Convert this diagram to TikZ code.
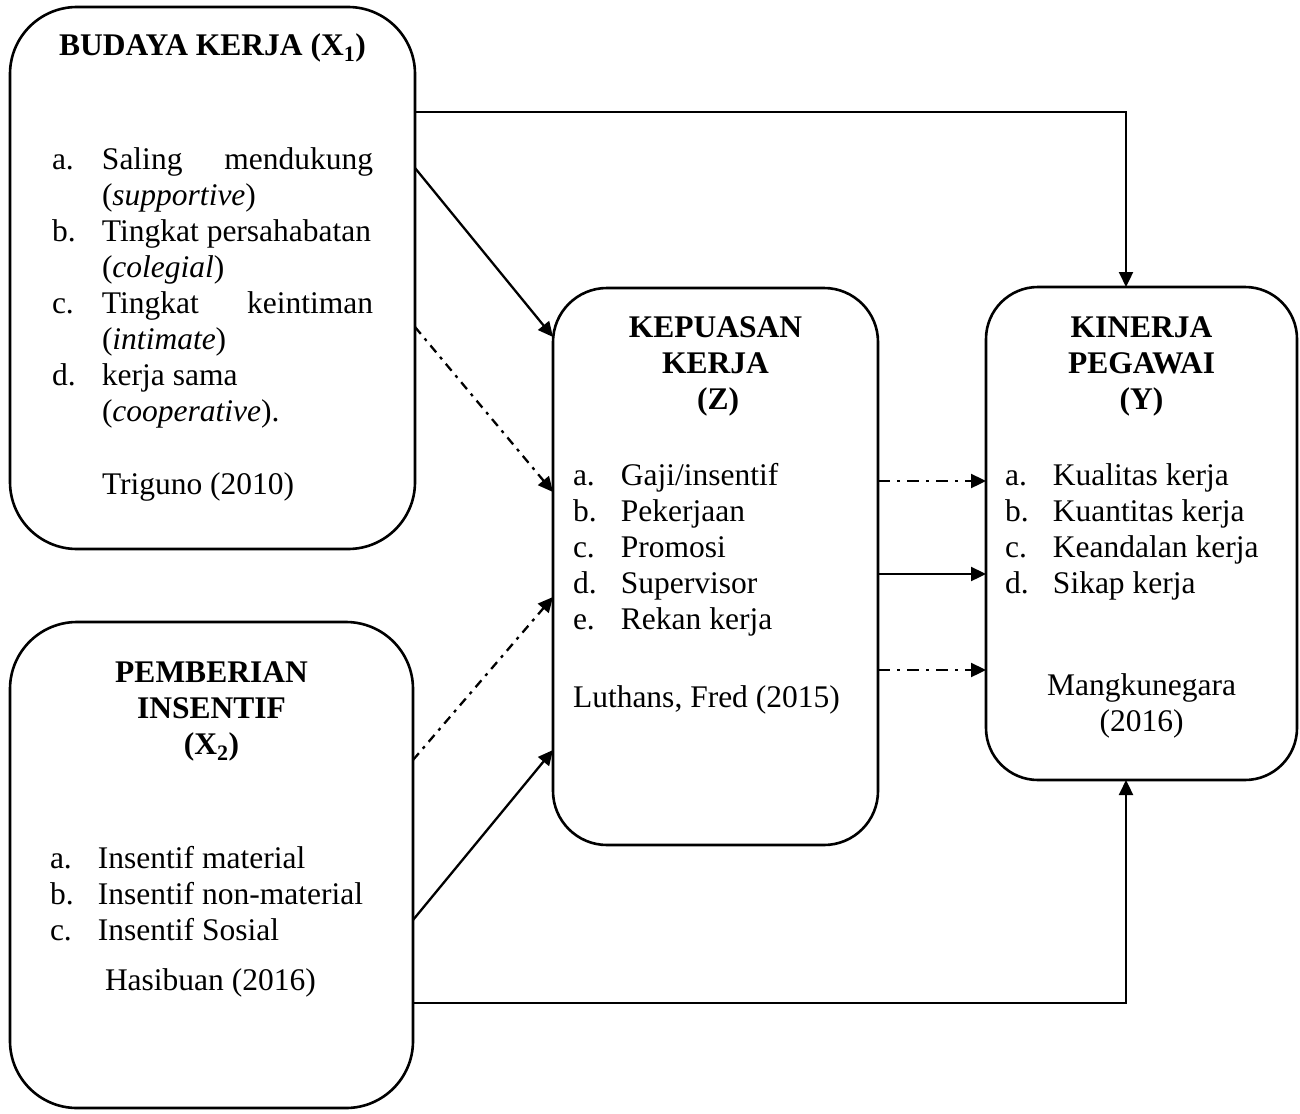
\documentclass[tikz,border=0pt]{standalone}
\usepackage{fontspec}
\setmainfont{Liberation Serif}
\usetikzlibrary{arrows.meta}

% fixed-width column for the list labels
\newcommand\itm[2][48pt]{\makebox[#1][l]{#2}}

\begin{document}
\begin{tikzpicture}[x=1pt,y=-1pt,
  box/.style={draw, line width=2.6pt, outer sep=0pt, inner sep=0pt},
  txt/.style={inner sep=0pt, outer sep=0pt, anchor=base west,
              font=\fontsize{31.5}{36}\selectfont},
  ttl/.style={txt, anchor=base, font=\fontsize{31.5}{36}\selectfont\bfseries},
  arr/.style={line width=2.3pt, -{Triangle[length=15pt,width=14pt]}},
  dd/.style={arr, dash pattern=on 12pt off 7pt on 3pt off 7pt},
  ddg/.style={arr, dash pattern=on 9pt off 6pt on 3pt off 6pt}]
\useasboundingbox (0,0) rectangle (1300,1113);

% the four variable boxes
\node[box, rounded corners=67pt, minimum width=405pt, minimum height=542pt] (x1) at (212.5,278) {};
\node[box, rounded corners=67pt, minimum width=403pt, minimum height=486pt] (x2) at (211.5,865) {};
\node[box, rounded corners=54pt, minimum width=325pt, minimum height=557pt] (z) at (715.5,566.5) {};
\node[box, rounded corners=52pt, minimum width=311pt, minimum height=493pt] (y) at (1141.5,533.5) {};

% X1: Budaya kerja
\node[ttl] (x1t) at (212.5,56) {BUDAYA\ KERJA\ (X\textsubscript{1})};
\node[txt] (x1a)  at (52,169) {\itm[50pt]{a.}\hbox to 271pt{Saling\hfill mendukung}};
\node[txt] (x1a2) at (102,205) {(\textit{supportive})};
\node[txt] (x1b)  at (52,241) {\itm[50pt]{b.}Tingkat persahabatan};
\node[txt] (x1b2) at (102,277) {(\textit{colegial})};
\node[txt] (x1c)  at (52,313) {\itm[50pt]{c.}\hbox to 271pt{Tingkat\hfill keintiman}};
\node[txt] (x1c2) at (102,349) {(\textit{intimate})};
\node[txt] (x1d)  at (52,385) {\itm[50pt]{d.}kerja sama};
\node[txt] (x1d2) at (102,421) {(\textit{cooperative}).};
\node[txt] (x1s)  at (102,494) {Triguno (2010)};

% X2: Pemberian insentif
\node[ttl] (x2t1) at (211.5,682) {PEMBERIAN};
\node[ttl] (x2t2) at (211.5,718) {INSENTIF};
\node[ttl] (x2t3) at (211.5,754) {(X\textsubscript{2})};
\node[txt] (x2a) at (50,868) {\itm[48pt]{a.}Insentif material};
\node[txt] (x2b) at (50,904) {\itm[48pt]{b.}Insentif non-material};
\node[txt] (x2c) at (50,940) {\itm[48pt]{c.}Insentif Sosial};
\node[txt] (x2s) at (105,990) {Hasibuan (2016)};

% Z: Kepuasan kerja
\node[ttl] (zt1) at (715.5,337) {KEPUASAN};
\node[ttl] (zt2) at (715.5,373) {KERJA};
\node[ttl] (zt3) at (718,409) {(Z)};
\node[txt] (za) at (573,485) {\itm{a.}Gaji/insentif};
\node[txt] (zb) at (573,521) {\itm{b.}Pekerjaan};
\node[txt] (zc) at (573,557) {\itm{c.}Promosi};
\node[txt] (zd) at (573,593) {\itm{d.}Supervisor};
\node[txt] (ze) at (573,629) {\itm{e.}Rekan kerja};
\node[txt] (zs) at (573,707) {Luthans, Fred (2015)};

% Y: Kinerja pegawai
\node[ttl] (yt1) at (1141.5,337) {KINERJA};
\node[ttl] (yt2) at (1141.5,373) {PEGAWAI};
\node[ttl] (yt3) at (1141.5,409) {(Y)};
\node[txt] (ya) at (1005,485) {\itm{a.}Kualitas kerja};
\node[txt] (yb) at (1005,521) {\itm{b.}Kuantitas kerja};
\node[txt] (yc) at (1005,557) {\itm{c.}Keandalan kerja};
\node[txt] (yd) at (1005,593) {\itm{d.}Sikap kerja};
\node[ttl, font=\fontsize{31.5}{36}\selectfont] (ys1) at (1141.5,695) {Mangkunegara};
\node[ttl, font=\fontsize{31.5}{36}\selectfont] (ys2) at (1141.5,731) {(2016)};

% heights at which the connectors meet the boxes
\coordinate (hTop) at (0,112);
\coordinate (hBot) at (0,1003);
\coordinate (vY)   at (1126,0);
\coordinate (h1a) at (0,168);  \coordinate (h1b) at (0,337);
\coordinate (h2a) at (0,327);  \coordinate (h2b) at (0,492);
\coordinate (h3a) at (0,760);  \coordinate (h3b) at (0,597);
\coordinate (h4a) at (0,920);  \coordinate (h4b) at (0,750);
\coordinate (hZ1) at (0,481);
\coordinate (hZ2) at (0,574);
\coordinate (hZ3) at (0,670);

% direct paths to Y
\draw[arr] (x1.east |- hTop) -| (vY |- y.north);
\draw[arr] (x2.east |- hBot) -| (vY |- y.south);

% paths into Z
\draw[arr] (x1.east |- h1a) -- (z.west |- h1b);
\draw[ddg] (x1.east |- h2a) -- (z.west |- h2b);
\draw[ddg] (x2.east |- h3a) -- (z.west |- h3b);
\draw[arr] (x2.east |- h4a) -- (z.west |- h4b);

% Z to Y
\draw[dd]  (z.east |- hZ1) -- (y.west |- hZ1);
\draw[arr] (z.east |- hZ2) -- (y.west |- hZ2);
\draw[dd]  (z.east |- hZ3) -- (y.west |- hZ3);
\end{tikzpicture}
\end{document}
